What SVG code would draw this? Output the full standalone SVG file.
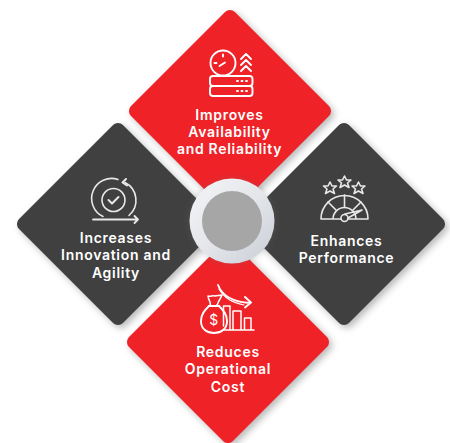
<svg xmlns="http://www.w3.org/2000/svg" width="450" height="443" viewBox="0 0 450 443">
<defs>
<filter id="sh" x="-20%" y="-20%" width="140%" height="140%"><feGaussianBlur stdDeviation="3.5"/></filter>
<linearGradient id="ring" x1="0" y1="0" x2="1" y2="1"><stop offset="0" stop-color="#f4f5f7"/><stop offset="0.5" stop-color="#e4e6ea"/><stop offset="1" stop-color="#c9ced6"/></linearGradient>
<rect id="d" x="-73.500" y="-73.500" width="147" height="147" rx="7"/>
</defs>
<style>
.red{fill:#ee2227}.dark{fill:#404040}.s{fill:#8a8a8a;opacity:.6;filter:url(#sh)}
text{font-family:"Inter","Liberation Sans",sans-serif;font-weight:600;font-size:14px;letter-spacing:.7px;fill:#fff;text-anchor:middle}
.i{fill:none;stroke:#fff;stroke-width:1.9;stroke-linecap:round;stroke-linejoin:round}
.il{fill:none;stroke:#e8e8e8;stroke-width:1.6;stroke-linecap:round;stroke-linejoin:round}
</style>
<rect width="450" height="443" fill="#fff"/>
<g id="node-top">
<use href="#d" class="s" transform="translate(233,114) rotate(45)"/>
<use href="#d" class="red" transform="translate(230,111) rotate(45)"/>
<g class="i">
<circle cx="223" cy="63" r="12.500"/>
<path d="M223 54.500v2M214.500 63h2M219.500 66l5.500-3.500"/>
<rect x="210" y="76" width="42.500" height="10" rx="3"/><rect x="210" y="86" width="42.500" height="10" rx="3"/>
<path d="M237 81h1M241.500 81h1M246 81h1M237 91h1M241.500 91h1M246 91h1"/>
<path d="M241 59l5-5 5 5M241 65l5-5 5 5M241 71l5-5 5 5"/>
</g>
<text x="229.500" y="119.500">Improves</text><text x="229.500" y="137">Availability</text><text x="229.500" y="154">and Reliability</text>
</g>
<g id="node-left">
<use href="#d" class="s" transform="translate(121,227) rotate(45)"/>
<use href="#d" class="dark" transform="translate(118,224) rotate(45)"/>
<g class="il">
<path d="M103 216.500a20 20 0 0 1 15-37M125 182.500a20 20 0 0 1 4 33"/>
<path d="M126 179l-3.500 3.500 4.500 3" stroke-width="2"/>
<circle cx="113.500" cy="200" r="11.500"/>
<path d="M108.500 200l3.500 3.500 6.500-6.500" stroke-width="2"/>
<path d="M93 219.500h45M134.500 216l3.500 3.500-3.500 3.500" stroke-width="1.800"/>
</g>
<text x="116" y="242.500">Increases</text><text x="116" y="260">Innovation and</text><text x="116" y="277.500">Agility</text>
</g>
<g id="node-right">
<use href="#d" class="s" transform="translate(347,227) rotate(45)"/>
<use href="#d" class="dark" transform="translate(344,224) rotate(45)"/>
<g class="il">
<path d="M321 219a23.500 23.500 0 0 1 47 0zM333 219a11.500 11.500 0 0 1 23 0"/>
<path d="M344.500 195v12.500M328 202l8 8M361 202l-8 8"/>
<path d="M348 218l14-8-17 4"/>
<circle cx="344.500" cy="218" r="3.500" fill="#404040"/>
<path d="M344.500 176l2 4h4.500l-3.500 3 1.500 4.500-4.500-2.500-4.500 2.500 1.500-4.500-3.500-3h4.500z"/>
<path d="M330 182l2 4h4.500l-3.500 3 1.500 4.500-4.500-2.500-4.500 2.500 1.500-4.500-3.500-3h4.500z"/>
<path d="M358.500 182l2 4h4.500l-3.500 3 1.500 4.500-4.500-2.500-4.500 2.500 1.500-4.500-3.500-3h4.500z"/>
</g>
<text x="346.500" y="245.500">Enhances</text><text x="346.500" y="263">Performance</text>
</g>
<g id="node-bottom">
<use href="#d" class="s" transform="translate(231,345) rotate(45)"/>
<use href="#d" class="red" transform="translate(228,342) rotate(45)"/>
<g class="i">
<path d="M209 306c-4 4-8 8-8 15 0 8 6 12 13 12s13-4 13-12c0-7-4-11-8-15"/>
<path d="M208 296c3 1 4-1 7 0 2-1 4 0 7-1-1 3-3 5-4 8 0 1-1 2-2 3h-5c-1-1-1-3-1-4-1-2-2-4-2-6z" stroke-width="1.500"/>
<path d="M209 306h10"/>
<path d="M224 330h30M223.500 326V306h6.500v24M233 330v-19h8v19M244.500 330v-12h6.500v12" stroke-width="1.500"/>
<path d="M218 285c4 10 14 17 32 18M245 297l6 5.500-6 5"/>
<path d="M219 289c5 9 14 14 25 16" stroke-width="1.200"/>
</g>
<text x="214" y="325" style="font-size:14px;font-weight:400">$</text>
<text x="228" y="356.500">Reduces</text><text x="228" y="374">Operational</text><text x="228" y="391.500">Cost</text>
</g>
<g id="center">
<circle cx="232" cy="221" r="43" fill="#777" opacity=".25" filter="url(#sh)"/>
<circle cx="232" cy="221" r="42.500" fill="url(#ring)"/>
<circle cx="232" cy="221" r="30" fill="#a6a6a6"/>
</g>
</svg>
